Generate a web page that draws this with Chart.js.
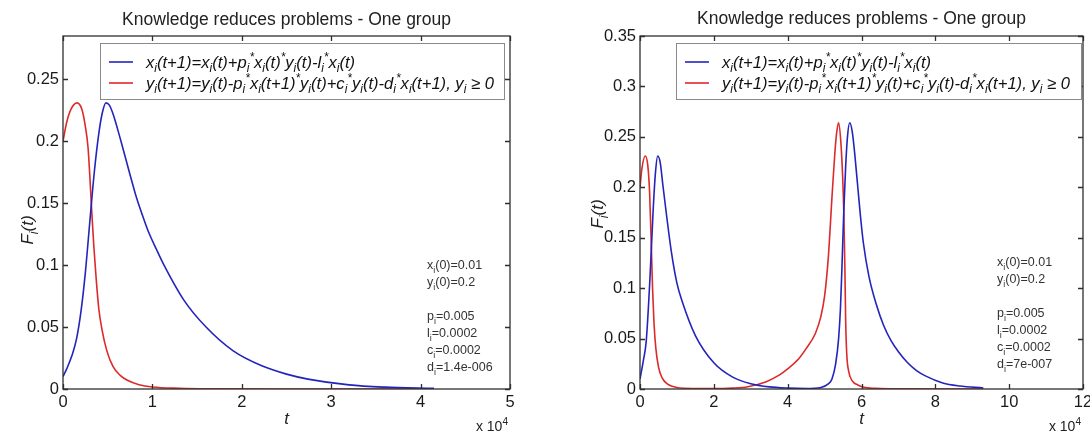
<!DOCTYPE html>
<html>
<head>
<meta charset="utf-8">
<script src="https://cdn.jsdelivr.net/npm/chart.js@4.4.1/dist/chart.umd.min.js"></script>
<style>
  html, body { margin: 0; padding: 0; background: #fff; }
  #wrap { position: relative; width: 1090px; height: 432px; overflow: hidden; }
  canvas { position: absolute; top: 0; }
</style>
</head>
<body>
<div id="wrap">
  <canvas id="left" width="545" height="432" style="left:0"></canvas>
  <canvas id="right" width="545" height="432" style="left:545px"></canvas>
</div>
<script>
// t is in units of 10^4
const titleText = 'Knowledge reduces problems - One group';
const legendLabels = [
  'x_i(t+1)=x_i(t)+p_i^*x_i(t)^*y_i(t)-l_i^*x_i(t)',
  'y_i(t+1)=y_i(t)-p_i^*x_i(t+1)^*y_i(t)+c_i^*y_i(t)-d_i^*x_i(t+1), y_i \u2265 0'
];

// left panel
const leftTicksX = [0, 1, 2, 3, 4, 5];
const leftTicksY = [0, 0.05, 0.1, 0.15, 0.2, 0.25];
const leftTx = [0, 0.04, 0.1, 0.15, 0.2, 0.25, 0.3, 0.35, 0.4, 0.44, 0.48, 0.52, 0.56, 0.61, 0.66, 0.75, 0.82, 0.88, 0.95, 1.05, 1.13, 1.35, 1.6, 1.9, 2.23, 2.5, 2.74, 3.2, 3.6, 4.15];
const leftX = [0.010, 0.016, 0.027, 0.040, 0.062, 0.094, 0.135, 0.175, 0.206, 0.223, 0.231, 0.229, 0.222, 0.210, 0.197, 0.173, 0.155, 0.142, 0.128, 0.112, 0.100, 0.072, 0.050, 0.031, 0.0185, 0.012, 0.008, 0.0033, 0.0015, 0.0005];
const leftTy = [0, 0.04, 0.09, 0.157, 0.21, 0.25, 0.28, 0.30, 0.32, 0.345, 0.37, 0.40, 0.436, 0.49, 0.56, 0.64, 0.72, 0.85, 1.0, 1.3, 1.7, 2.5, 4.15];
const leftY = [0.200, 0.215, 0.226, 0.231, 0.226, 0.212, 0.195, 0.172, 0.145, 0.115, 0.090, 0.065, 0.048, 0.031, 0.018, 0.011, 0.007, 0.0035, 0.0016, 0.0006, 0.0002, 0.00005, 0];
const leftNotes = ['x_i(0)=0.01', 'y_i(0)=0.2', '', 'p_i=0.005', 'l_i=0.0002', 'c_i=0.0002', 'd_i=1.4e-006'];

// right panel
const rightTicksX = [0, 2, 4, 6, 8, 10, 12];
const rightTicksY = [0, 0.05, 0.1, 0.15, 0.2, 0.25, 0.3, 0.35];
const rightTx = [0, 0.1, 0.17, 0.27, 0.36, 0.42, 0.48, 0.55, 0.62, 0.72, 0.85, 1.0, 1.15, 1.5, 2.0, 2.5, 3.0, 3.5, 4.0, 4.5, 4.9, 5.1, 5.2, 5.3, 5.38, 5.43, 5.47, 5.52, 5.57, 5.62, 5.68, 5.75, 5.82, 5.9, 5.97, 6.05, 6.2, 6.4, 6.6, 6.8, 7.0, 7.25, 7.5, 7.73, 8.2, 8.66, 9.3];
const rightX = [0.010, 0.030, 0.048, 0.110, 0.180, 0.215, 0.231, 0.224, 0.202, 0.172, 0.136, 0.105, 0.086, 0.053, 0.026, 0.012, 0.0052, 0.0021, 0.0009, 0.0005, 0.0015, 0.005, 0.010, 0.025, 0.050, 0.080, 0.120, 0.176, 0.220, 0.250, 0.264, 0.255, 0.232, 0.200, 0.172, 0.145, 0.112, 0.084, 0.063, 0.048, 0.037, 0.026, 0.018, 0.013, 0.006, 0.003, 0.001];
const rightTy = [0, 0.05, 0.14, 0.21, 0.26, 0.3, 0.34, 0.38, 0.43, 0.5, 0.6, 0.74, 1.0, 1.5, 2.0, 2.5, 2.92, 3.42, 3.78, 4.0, 4.3, 4.5, 4.75, 4.9, 5.0, 5.1, 5.2, 5.28, 5.33, 5.38, 5.44, 5.49, 5.52, 5.55, 5.57, 5.6, 5.65, 5.75, 5.9, 6.1, 6.5, 7.0, 9.3];
const rightY = [0.200, 0.218, 0.231, 0.222, 0.195, 0.150, 0.100, 0.065, 0.040, 0.022, 0.011, 0.005, 0.0015, 0.0005, 0.0004, 0.0009, 0.0023, 0.0073, 0.014, 0.020, 0.030, 0.040, 0.055, 0.072, 0.092, 0.130, 0.190, 0.235, 0.255, 0.264, 0.245, 0.210, 0.176, 0.120, 0.070, 0.035, 0.018, 0.008, 0.004, 0.0015, 0.0005, 0.0001, 0];
const rightNotes = ['x_i(0)=0.01', 'y_i(0)=0.2', '', 'p_i=0.005', 'l_i=0.0002', 'c_i=0.0002', 'd_i=7e-007'];

const BLUE = '#2424bc';
const RED = '#dc2a2a';
const FONT = '"Liberation Sans", Arial, Helvetica, sans-serif';

// split "x_i^*" style strings into normal / sub / sup parts
function richParts(str) {
  const parts = [];
  let buf = '';
  for (let i = 0; i < str.length; i++) {
    const ch = str[i];
    if ((ch === '_' || ch === '^') && i + 1 < str.length) {
      if (buf) { parts.push({ t: buf, k: 0 }); buf = ''; }
      parts.push({ t: str[i + 1], k: ch === '_' ? 1 : -1 });
      i++;
    } else {
      buf += ch;
    }
  }
  if (buf) parts.push({ t: buf, k: 0 });
  return parts;
}

function drawRich(ctx, str, x, y, size, style, align) {
  const parts = richParts(str);
  const fontFor = k => `${style} ${k ? size * 0.72 : size}px ${FONT}`;
  let w = 0;
  parts.forEach(p => { ctx.font = fontFor(p.k); p.w = ctx.measureText(p.t).width; w += p.w; });
  let cx = align === 'center' ? x - w / 2 : align === 'right' ? x - w : x;
  ctx.textAlign = 'left';
  ctx.textBaseline = 'alphabetic';
  parts.forEach(p => {
    ctx.font = fontFor(p.k);
    const dy = p.k === 1 ? size * 0.28 : p.k === -1 ? -size * 0.4 : 0;
    ctx.fillText(p.t, cx, y + dy);
    cx += p.w;
  });
  return w;
}

const panelPlugin = {
  id: 'panel',
  afterDraw(chart, args, o) {
    const ctx = chart.ctx, a = chart.chartArea;
    const xs = chart.scales.x, ys = chart.scales.y;
    ctx.save();
    // box + inward ticks on all four sides
    ctx.strokeStyle = '#2e2e2e';
    ctx.lineWidth = 1.3;
    ctx.strokeRect(a.left, a.top, a.right - a.left, a.bottom - a.top);
    ctx.beginPath();
    xs.ticks.forEach(t => {
      const px = Math.round(xs.getPixelForValue(t.value)) + 0.5;
      ctx.moveTo(px, a.bottom); ctx.lineTo(px, a.bottom - 5);
      ctx.moveTo(px, a.top); ctx.lineTo(px, a.top + 5);
    });
    ys.ticks.forEach(t => {
      const py = Math.round(ys.getPixelForValue(t.value)) + 0.5;
      ctx.moveTo(a.left, py); ctx.lineTo(a.left + 5, py);
      ctx.moveTo(a.right, py); ctx.lineTo(a.right - 5, py);
    });
    ctx.stroke();

    ctx.fillStyle = '#222';
    // title
    ctx.font = `17.5px ${FONT}`;
    ctx.textAlign = 'center';
    ctx.textBaseline = 'middle';
    ctx.fillText(titleText, (a.left + a.right) / 2, o.titleY);

    // legend
    const L = o.legend;
    ctx.fillStyle = '#fff';
    ctx.fillRect(L.x, L.y, L.w, L.h);
    ctx.strokeStyle = '#8a8a8a';
    ctx.lineWidth = 1;
    ctx.strokeRect(L.x + 0.5, L.y + 0.5, L.w, L.h);
    [BLUE, RED].forEach((c, i) => {
      const ry = L.y + 19 + i * 21;
      ctx.strokeStyle = c;
      ctx.lineWidth = 1.6;
      ctx.beginPath();
      ctx.moveTo(L.x + 9, ry); ctx.lineTo(L.x + 33, ry);
      ctx.stroke();
      ctx.fillStyle = '#111';
      drawRich(ctx, legendLabels[i], L.x + 46, ry + 5.5, 16.6, 'italic', 'left');
    });

    // parameter notes
    ctx.fillStyle = '#333';
    o.notes.forEach((s, i) => {
      if (s) drawRich(ctx, s, o.notesX, o.notesY + i * 17, 12.5, 'normal', 'left');
    });

    // axis titles
    ctx.fillStyle = '#222';
    drawRich(ctx, 't', (a.left + a.right) / 2, 424, 17, 'italic', 'center');
    drawRich(ctx, 'x 10^4', a.right - 2, 431, 14, 'normal', 'right');
    ctx.save();
    ctx.translate(o.ylabX, o.ylabY);
    ctx.rotate(-Math.PI / 2);
    drawRich(ctx, 'F_i(t)', 0, 6, 17, 'italic', 'center');
    ctx.restore();
    ctx.restore();
  }
};

const fmtTick = v => String(Math.round(v * 1000) / 1000);

function makePanel(id, p) {
  const series = (tx, vals) => tx.map((t, i) => ({ x: t, y: vals[i] }));
  return new Chart(document.getElementById(id), {
    type: 'scatter',
    data: {
      datasets: [
        { data: series(p.tx, p.xv), borderColor: BLUE, borderWidth: 1.6, showLine: true, pointRadius: 0, cubicInterpolationMode: 'monotone' },
        { data: series(p.ty, p.yv), borderColor: RED, borderWidth: 1.6, showLine: true, pointRadius: 0, cubicInterpolationMode: 'monotone' }
      ]
    },
    options: {
      responsive: false,
      animation: false,
      layout: { padding: { left: 0, top: p.area.top, right: 545 - p.area.right, bottom: 0 } },
      plugins: { legend: { display: false }, tooltip: { enabled: false }, panel: p.extra },
      scales: {
        x: {
          type: 'linear', min: 0, max: p.xMax,
          grid: { display: false, drawTicks: false }, border: { display: false },
          ticks: { color: '#1a1a1a', font: { size: 16.5, family: FONT }, padding: 4, maxRotation: 0, autoSkip: false, callback: fmtTick },
          afterBuildTicks: s => { s.ticks = p.ticksX.map(v => ({ value: v })); },
          afterFit: s => { s.height = 432 - p.area.bottom; s.paddingLeft = 0; s.paddingRight = 0; }
        },
        y: {
          type: 'linear', min: 0, max: p.yMax,
          grid: { display: false, drawTicks: false }, border: { display: false },
          ticks: { color: '#1a1a1a', font: { size: 16.5, family: FONT }, padding: 4, autoSkip: false, callback: fmtTick },
          afterBuildTicks: s => { s.ticks = p.ticksY.map(v => ({ value: v })); },
          afterFit: s => { s.width = p.area.left; s.paddingTop = 0; s.paddingBottom = 0; }
        }
      }
    },
    plugins: [panelPlugin]
  });
}

makePanel('left', {
  tx: leftTx, xv: leftX, ty: leftTy, yv: leftY,
  ticksX: leftTicksX, ticksY: leftTicksY, xMax: 5, yMax: 0.285,
  area: { left: 63, top: 36, right: 510, bottom: 389 },
  extra: { titleY: 20, legend: { x: 100, y: 43, w: 404, h: 56 }, notes: leftNotes, notesX: 427, notesY: 269, ylabX: 27, ylabY: 230 }
});

makePanel('right', {
  tx: rightTx, xv: rightX, ty: rightTy, yv: rightY,
  ticksX: rightTicksX, ticksY: rightTicksY, xMax: 12, yMax: 0.35,
  area: { left: 95, top: 36, right: 538, bottom: 389 },
  extra: { titleY: 19, legend: { x: 131, y: 43, w: 405, h: 56 }, notes: rightNotes, notesX: 452, notesY: 266, ylabX: 52, ylabY: 214 }
});
</script>
</body>
</html>
